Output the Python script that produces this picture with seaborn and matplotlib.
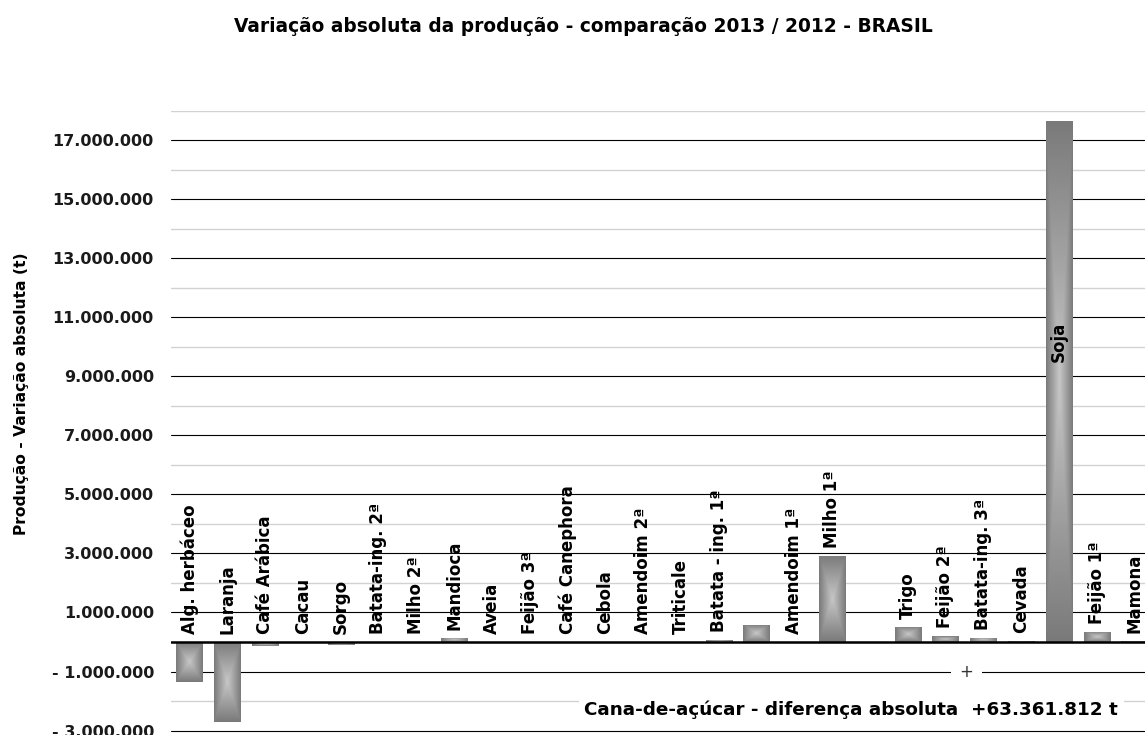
import numpy as np
import pandas as pd
import matplotlib
matplotlib.use("Agg")
import matplotlib.pyplot as plt
import seaborn as sns
from matplotlib.ticker import FixedLocator, FuncFormatter

# ---------------- data ----------------
categories = ["Alg. herbáceo", "Laranja", "Café Arábica", "Cacau", "Sorgo",
              "Batata-ing. 2ª", "Milho 2ª", "Mandioca", "Aveia", "Feijão 3ª",
              "Café Canephora", "Cebola", "Amendoim 2ª", "Triticale",
              "Batata - ing. 1ª", "(sem rótulo)", "Amendoim 1ª", "Milho 1ª",
              "Cana-de-açúcar", "Trigo", "Feijão 2ª", "Batata-ing. 3ª", "Cevada",
              "Soja", "Feijão 1ª", "Mamona"]
values = [-1365000, -2720000, -140000, -40000, -110000,
          -45000, -40000, 140000, 15000, -10000,
          10000, 5000, 2000, -5000,
          60000, 580000, 10000, 2920000,
          np.nan, 520000, 200000, 140000, 50000,
          17650000, 340000, 30000]
bar_labels = ["Alg. herbáceo", "Laranja", "Café Arábica", "Cacau", "Sorgo",
              "Batata-ing. 2ª", "Milho 2ª", "Mandioca", "Aveia", "Feijão 3ª",
              "Café Canephora", "Cebola", "Amendoim 2ª", "Triticale",
              "Batata - ing. 1ª", "", "Amendoim 1ª", "Milho 1ª",
              "", "Trigo", "Feijão 2ª", "Batata-ing. 3ª", "Cevada",
              "Soja", "Feijão 1ª", "Mamona"]
major_ticks = [-3000000, -1000000, 1000000, 3000000, 5000000, 7000000,
               9000000, 11000000, 13000000, 15000000, 17000000]
minor_ticks = [-2000000, 0, 2000000, 4000000, 6000000, 8000000, 10000000,
               12000000, 14000000, 16000000, 18000000]
title = "Variação absoluta da produção - comparação 2013 / 2012 - BRASIL"
ylabel = "Produção - Variação absoluta (t)"
cana_note = "Cana-de-açúcar - diferença absoluta  +63.361.812 t"

df = pd.DataFrame({"categoria": categories, "variacao": values})

# ---------------- style ----------------
sns.set_style("white")
plt.rcParams["font.family"] = ["DejaVu Sans"]
plt.rcParams["font.weight"] = "bold"

fig = plt.figure(figsize=(11.45, 7.35), dpi=100)
ax = fig.add_axes([170.6 / 1145, 0.0, 1.0 - 170.6 / 1145, 1 - 110.5 / 735])

sns.barplot(data=df, x="categoria", y="variacao", order=categories,
            color="#8c8c8c", width=0.69, errorbar=None, ax=ax,
            edgecolor="none", linewidth=0, zorder=2)

# rectangular gradient fill for each bar (darker edges, lighter centre)
n = 64
u = np.linspace(-1, 1, n)
U, V = np.meshgrid(u, u)
T = np.maximum(np.abs(U), np.abs(V))
grad = 0.78 - (0.78 - 0.48) * T
for p in list(ax.patches):
    h = p.get_height()
    if not np.isfinite(h) or h == 0:
        continue
    x0 = p.get_x()
    w = p.get_width()
    y0, y1 = sorted([p.get_y(), p.get_y() + h])
    im = ax.imshow(grad, cmap="gray", vmin=0, vmax=1,
                   extent=[x0, x0 + w, y0, y1], origin="lower",
                   aspect="auto", interpolation="bilinear", zorder=2.5)
    im.set_clip_path(p)

# axes limits / grid
ax.set_xlim(-0.5, 25.28)
ax.set_ylim(-3149000, 18000000)
ax.yaxis.set_major_locator(FixedLocator(major_ticks))
ax.yaxis.set_minor_locator(FixedLocator(minor_ticks))


def fmt(v, pos=None):
    s = f"{abs(int(round(v))):,}".replace(",", ".")
    return ("- " + s) if v < 0 else s


ax.yaxis.set_major_formatter(FuncFormatter(fmt))
ax.grid(which="major", axis="y", color="black", linewidth=0.8, zorder=0)
ax.grid(which="minor", axis="y", color="#d2d2d2", linewidth=1.0, zorder=0)
ax.set_axisbelow(True)
ax.tick_params(axis="y", which="both", length=0, pad=12, labelsize=11.5)
ax.tick_params(axis="x", which="both", length=0, labelbottom=False)
for lab in ax.get_yticklabels():
    lab.set_fontweight("bold")
    lab.set_color("#1a1a1a")
for s in ax.spines.values():
    s.set_visible(False)
ax.set_xlabel("")
ax.set_ylabel("")
ax.axhline(0, color="black", linewidth=1.8, zorder=5)

# labels over bars
for i, (lab, v) in enumerate(zip(bar_labels, values)):
    if not lab:
        continue
    if lab == "Soja":
        ax.text(i, 10150000, lab, rotation=90, ha="center", va="center",
                fontsize=12, fontweight="bold", color="black", zorder=6)
        continue
    ax.annotate(lab, xy=(i, max(v, 0)), xytext=(0, 8),
                textcoords="offset pixels", rotation=90, ha="center",
                va="bottom", fontsize=12, fontweight="bold", color="black",
                zorder=6)

# sugar-cane note and the small "+" mark
ax.text(17.51, -2300000, cana_note, ha="center", va="center",
        fontsize=13.2, fontweight="bold", color="black", zorder=6,
        bbox=dict(facecolor="white", edgecolor="none", pad=4))
ax.text(20.56, -1000000, "+", ha="center", va="center", fontsize=12,
        fontweight="normal", color="#333333", zorder=6,
        bbox=dict(facecolor="white", edgecolor="none", pad=6))

fig.text(583 / 1145, 1 - 26 / 735, title, ha="center", va="center",
         fontsize=13.4, fontweight="bold", color="black")
fig.text(22 / 1145, 1 - 394 / 735, ylabel, rotation=90, ha="center",
         va="center", fontsize=11.2, fontweight="bold", color="black")

fig.savefig("out.png", dpi=100, facecolor="white")
